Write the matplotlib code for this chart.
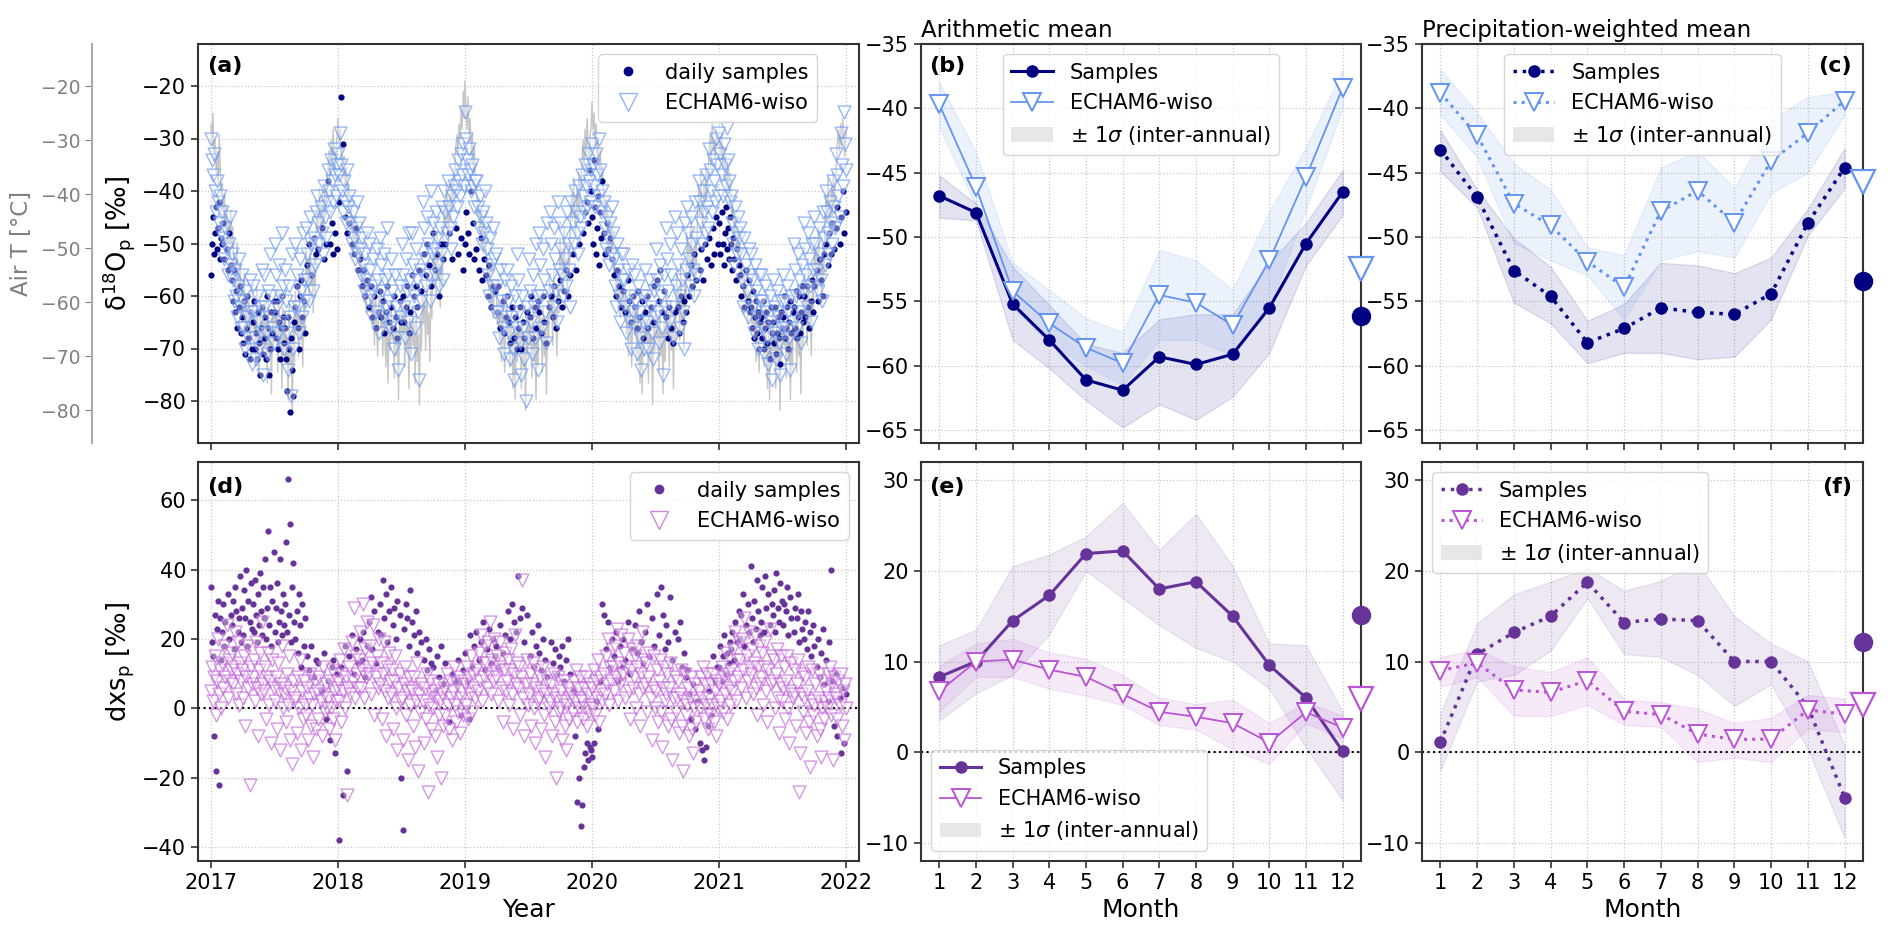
import numpy as np
import pandas as pd
import matplotlib
matplotlib.use('Agg')
import matplotlib.pyplot as plt
import matplotlib.dates as mdates
from matplotlib.patches import Patch
from matplotlib.lines import Line2D

plt.rcParams['font.family'] = ['DejaVu Sans']
n = np.nan
years = [2017, 2018, 2019, 2020, 2021]

# ---------------- daily data (3-day grid per year, NaN = no sample) ----------------
echam_d18o_2017 = [-30,-34,-37,-33,-40,-44,-38,-42,-46,-41,-48, -44,-49,-53,-47,-51,-56,-50,-45,-54,
    -52,-57,-61,-55,-60,-64,-58,-53,-62,-66, -56,-61,-66,-70,-59,-64,-68,-57,-63,-73,
    -58,-63,-68,-72,-60,-65,-70,-62,-67,-55,-75, -56,-62,-67,-71,-59,-64,-52,-60,-66,-69,
    -50,-56,-62,-67,-54,-60,-65,-48,-58,-70, -55,-61,-67,-74,-58,-64,-79,-52,-70,-62,
    -50,-56,-62,-67,-53,-59,-64,-48,-57,-61, -47,-52,-57,-61,-45,-50,-55,-59,-49,-54,-44,
    -41,-46,-50,-43,-48,-52,-39,-45,-49,-42, -36,-40,-44,-34,-38,-42,-32,-37,-41,-35]
echam_d18o_2018 = [-33,-37,-29,-35,-40,-44,-38,-42,-46,-36,-43, -41,-46,-50,-44,-49,-53,-47,-42,-52,
    -46,-51,-56,-49,-54,-59,-52,-57,-48,-61, -50,-55,-60,-64,-53,-58,-63,-51,-57,-67,
    -49,-54,-59,-64,-52,-57,-62,-47,-56,-61,-66, -53,-59,-65,-70,-56,-62,-68,-74,-58,-64,
    -50,-56,-62,-68,-53,-59,-65,-48,-57,-71, -48,-54,-60,-66,-51,-57,-63,-76,-55,-61,
    -42,-47,-53,-58,-45,-50,-56,-61,-40,-52, -46,-51,-56,-44,-49,-54,-58,-47,-52,-43,-57,
    -40,-44,-48,-38,-43,-47,-51,-41,-45,-39, -36,-40,-43,-34,-38,-41,-33,-37,-31,-39]
echam_d18o_2019 = [-25,-30,-34,-37,-32,-36,-40,-35,-39,-43,-38, -38,-43,-47,-41,-45,-50,-44,-48,-40,
    -46,-51,-56,-60,-49,-54,-58,-47,-53,-63, -52,-58,-63,-68,-55,-61,-66,-71,-57,-64,
    -55,-61,-67,-72,-58,-64,-70,-76,-60,-66,-52, -57,-63,-69,-75,-60,-66,-72,-80,-62,-68,
    -53,-59,-65,-71,-56,-62,-68,-50,-60,-74, -48,-54,-60,-66,-51,-57,-63,-69,-46,-59,
    -44,-50,-56,-62,-47,-53,-59,-65,-42,-55, -46,-51,-56,-60,-48,-53,-58,-44,-50,-55,-62,
    -42,-46,-50,-40,-44,-48,-52,-39,-45,-47, -37,-41,-44,-35,-39,-43,-33,-38,-42,-36]
echam_d18o_2020 = [-31,-35,-39,-43,-33,-37,-41,-30,-36,-44,-40, -42,-47,-51,-45,-49,-54,-46,-52,-43,
    -48,-53,-58,-62,-50,-55,-60,-65,-52,-57, -52,-57,-62,-67,-55,-60,-65,-70,-54,-63,
    -56,-61,-66,-71,-58,-63,-68,-74,-60,-65,-70, -55,-60,-65,-70,-57,-62,-67,-72,-59,-64,
    -51,-57,-63,-69,-54,-60,-66,-75,-56,-62, -47,-53,-59,-65,-50,-56,-62,-68,-45,-58,
    -48,-54,-60,-66,-51,-57,-63,-70,-46,-55, -43,-48,-53,-58,-45,-50,-55,-60,-42,-49,-56,
    -38,-42,-46,-50,-40,-44,-48,-37,-43,-47, -32,-36,-40,-44,-34,-38,-42,-30,-35,-41]
echam_d18o_2021 = [-29,-33,-37,-41,-31,-35,-39,-28,-34,-38,-42, -41,-46,-50,-54,-43,-48,-52,-45,-49,
    -47,-52,-57,-62,-49,-54,-59,-64,-51,-56, -52,-57,-62,-67,-54,-59,-64,-70,-56,-61,
    -56,-61,-66,-71,-58,-63,-68,-73,-60,-65,-76, -57,-62,-67,-72,-59,-64,-69,-75,-61,-66,
    -56,-61,-66,-71,-58,-63,-68,-74,-60,-65, -50,-55,-60,-66,-52,-57,-63,-69,-54,-59,
    -46,-51,-56,-62,-48,-53,-58,-65,-50,-55, -45,-50,-55,-59,-47,-52,-57,-61,-44,-49,-54,
    -40,-44,-48,-52,-42,-46,-50,-38,-43,-47, -33,-37,-41,-45,-29,-35,-39,-25,-31,-36]

samp_d18o_2017 = [-56,-50,-45,-52,-48,-43,-51,-47,-42,-53,-49, -50,-46,-53,n,-51,-55,-48,n,-54,
    -57,-61,-55,-63,-59,-66,n,-62,-58,-67, -64,-69,-61,-71,-66,-60,-68,-72,-63,-70,
    -65,-61,-70,-67,-72,-63,-69,-75,-66,-62,-71, -68,-64,-72,-60,-66,-75,-70,-63,-67,-61,
    -63,-68,-61,-70,-65,-72,-66,-60,-64,-69, -66,-72,-78,-64,-70,-82,-68,-74,-79,-65,
    -62,-58,-66,-70,-60,-57,-64,n,-61,-67, n,-54,n,-50,n,-56,n,n,-49,n,-52,
    n,-51,n,n,-47,n,-53,n,-50,n, -38,n,-50,n,-46,-52,n,-48,n,-51]
samp_d18o_2018 = [n,-42,n,-22,n,-31,n,-45,n,-48,n, -46,n,-50,n,-52,n,-47,n,-55,
    n,-53,n,-58,-55,n,-60,n,-57,n, -62,n,-58,-64,n,-60,-66,n,-63,n,
    -59,-64,n,-61,-67,n,-63,-58,n,-65,n, -62,n,-66,-60,n,-64,-68,n,-61,-65,
    n,-60,-65,n,-62,-58,n,-67,-63,n, -56,n,-60,n,-58,-62,n,-55,n,-59,
    n,-52,n,-56,-50,n,-54,n,-58,n, -48,n,-55,n,-52,n,-60,n,-50,n,-53,
    n,-50,n,n,-48,n,n,-53,n,n, n,-47,n,-52,n,n,-49,n,-55,n]
samp_d18o_2019 = [-50,-44,n,-48,-52,n,-40,n,-46,-53,n, -51,n,-55,n,-49,-57,n,-53,n,
    -56,n,-60,-54,n,-62,n,-58,n,-59, n,-63,-58,n,-66,n,-61,-67,n,-64,
    -60,n,-65,-69,n,-62,n,-68,-64,n,-70, -66,n,-62,-70,n,-65,-68,n,-63,n,
    n,-64,-60,n,-68,n,-62,-66,n,-61, -63,n,-67,n,-60,-65,n,-69,n,-62,
    n,-60,n,-64,-58,n,-66,n,-61,n, -57,n,-62,n,-59,n,-55,n,-60,n,-56,
    n,-52,n,n,-55,n,n,-50,n,n, n,-48,n,-44,n,-42,-46,n,-36,-40]
samp_d18o_2020 = [-45,-50,-34,-43,-52,-47,-41,-54,-44,-49,-38, -48,-52,n,-46,-51,n,-49,n,-53,
    n,-56,n,-60,-55,n,-58,n,-62,n, -59,n,-63,n,-57,-61,n,-65,n,-60,
    n,-62,n,-66,-59,n,-64,n,-61,-68,n, -63,n,-60,-66,n,-62,n,-65,-58,n,
    n,-57,n,-61,-55,n,-63,n,-59,n, -64,n,-68,-62,n,-66,n,-69,-63,n,
    n,-62,-67,n,-60,n,-65,-61,n,-63, -56,n,-60,n,-54,-58,n,-52,n,-57,n,
    n,-55,-51,n,-57,n,-50,n,-53,n, -49,n,-54,n,-47,-52,n,-45,n,-50]
samp_d18o_2021 = [-46,-52,-44,-50,-54,-48,-43,-51,-47,-53,-45, -50,-55,-49,-53,n,-57,-51,n,-54,
    -56,-60,n,-58,-62,-55,n,-61,-57,-63, -62,-66,-59,-68,-64,-61,-67,-63,-70,-65,
    -64,-68,-61,-70,-66,-63,-69,-65,-72,-62,-67, -65,-69,-62,-71,-67,-64,-68,-73,-63,-66,
    -64,-60,-68,-66,-62,-70,-65,-61,-67,-63, -62,-66,-59,-68,-64,-60,-67,-63,-58,-65,
    -60,-64,n,-58,-62,-66,n,-61,-57,-63, -58,n,-55,-61,n,-53,-57,n,-60,-52,n,
    -50,n,-54,-48,n,-52,-46,n,-51,n, -47,-43,n,-50,-45,n,-40,-48,n,-44]

samp_dxs_2017 = [35,19,15,-8,27,-18,23,31,-22,26,14, 22,30,18,25,n,33,20,n,27,
    24,31,17,35,28,n,22,26,38,19, 29,21,34,26,40,18,31,25,36,23,
    30,22,37,27,19,33,24,39,28,21,35, 26,43,20,29,51,24,35,18,31,45,
    22,29,36,19,25,43,28,21,33,24, 30,48,22,66,27,53,19,35,42,25,
    20,28,16,33,24,12,30,n,18,26, n,15,n,11,n,18,n,n,9,n,14,
    n,13,n,n,5,n,16,n,-3,n, 8,n,-9,n,12,14,n,-13,n,10]
samp_dxs_2018 = [n,-38,n,12,n,-25,n,18,n,-18,n, 15,n,21,n,10,n,17,n,13,
    n,20,n,14,22,n,9,n,18,n, 25,n,32,17,n,28,13,n,22,n,
    30,21,n,37,26,n,33,19,n,28,n, 35,n,24,29,n,20,31,n,27,-20,
    n,-35,23,n,30,26,n,18,34,n, 25,n,21,n,28,16,n,22,n,19,
    n,14,n,20,11,n,17,n,13,n, 12,n,5,n,15,n,9,n,18,n,7,
    n,13,n,n,-4,n,n,10,n,n, n,8,n,14,n,n,-2,n,11,n]
samp_dxs_2019 = [16,n,8,n,-3,21,n,12,n,18,n, 22,n,14,n,19,n,25,n,11,
    n,17,n,23,n,13,n,20,n,15, 18,n,12,n,24,n,16,n,21,n,
    n,28,n,20,n,30,n,25,n,22,n, 38,n,26,n,29,n,19,n,27,n,
    n,15,n,22,n,12,n,18,n,24, 16,n,11,n,20,n,14,n,9,n,
    n,19,n,13,n,17,n,10,n,15, 12,n,18,n,8,n,14,n,20,n,10,
    n,5,n,-8,n,-27,n,-20,n,-34, -28,n,-17,-13,n,-10,-15,n,-11,-12]
samp_dxs_2020 = [-14,n,-10,n,2,n,-6,n,8,n,30, 27,n,17,n,25,n,12,n,20,
    n,15,n,22,n,8,n,18,n,12, 20,n,14,n,25,n,10,n,17,n,
    n,24,n,16,n,28,n,19,n,13,n, 22,n,30,n,15,n,26,n,18,n,
    n,33,n,21,n,35,n,27,n,17, 24,n,19,n,32,n,14,n,22,n,
    n,20,n,25,n,12,n,16,n,9, 11,n,4,n,-3,n,7,n,-6,n,2,
    n,-10,n,-12,n,-15,n,-11,n,-5, 5,n,-2,n,15,n,8,n,12,n]
samp_dxs_2021 = [12,18,8,15,21,n,10,16,n,13,19, 17,22,n,14,25,n,19,n,28,
    20,27,n,33,18,24,n,30,22,n, 41,26,19,31,n,23,37,28,n,21,
    25,35,n,22,38,29,n,33,24,n,30, 27,34,22,39,n,29,25,36,n,31,
    24,30,n,28,35,21,n,32,26,n, 22,29,n,26,33,19,n,28,23,n,
    20,25,n,17,28,n,22,15,n,24, 18,n,12,20,n,9,16,n,23,7,n,
    14,n,2,19,n,40,8,n,-5,n, 10,-8,n,3,-13,n,6,-10,n,4]

echam_dxs_2017 = [5,12,2,9,15,-2,8,20,4,11,0, 13,6,18,9,24,3,14,8,11,
    16,7,12,22,4,10,19,1,13,8, 11,3,15,-5,9,18,6,-22,12,7,
    9,14,2,19,6,-8,11,16,4,25,7, 5,12,-3,9,16,1,8,-10,14,6,
    2,9,-6,13,5,-12,7,18,0,4, 6,-4,10,1,15,-9,5,-16,8,2,
    3,-7,9,0,14,-12,5,-3,8,1, -2,6,-9,3,10,-5,1,-14,4,8,-6,
    5,-3,9,2,-8,12,4,-1,7,0, 3,-6,8,0,11,-3,5,-9,2,6]
echam_dxs_2018 = [8,2,14,-4,10,5,17,0,9,-25,6, 12,4,19,8,29,3,15,10,6,
    14,22,6,11,30,3,17,9,25,12, 10,18,4,13,24,-2,9,15,6,20,
    7,13,-3,10,19,5,-8,12,3,16,8, 4,11,-6,8,15,0,-12,6,10,2,
    3,-9,7,12,-2,5,-15,9,1,6, 5,-5,9,-11,2,13,-18,4,-1,7,
    2,-10,6,-3,10,-24,1,8,-6,4, 0,5,-8,3,-14,7,-2,2,-20,4,-5,
    6,-2,10,1,-6,8,3,-9,5,12, 1,-4,7,-1,9,-7,3,5,-2,8]
echam_dxs_2019 = [7,1,12,-3,9,4,15,-1,10,6,3, 11,5,16,8,21,2,13,9,18,
    13,6,19,10,25,4,14,8,20,11, 9,15,2,12,19,6,-4,11,16,5,
    8,14,1,11,17,4,-6,10,21,7,13, 6,12,-2,9,37,3,-8,7,14,1,
    4,10,-5,7,13,0,-10,6,11,2, 3,9,-6,5,12,-2,-14,4,8,0,
    2,7,-8,4,10,-4,-20,3,9,-1, 0,5,-9,2,8,-5,-12,1,6,-3,3,
    4,-1,8,2,11,-4,6,0,9,3, 2,-3,6,0,9,-5,4,-1,7,1]
echam_dxs_2020 = [6,0,11,-2,8,3,14,-4,9,5,2, 10,4,15,7,20,1,12,8,17,
    12,5,18,9,23,2,13,7,21,10, 10,16,3,12,20,5,-3,11,17,6,
    9,15,0,12,18,4,-5,10,22,6,14, 7,13,-1,9,16,3,-9,6,15,0,
    5,11,-4,8,14,-1,-11,6,12,2, 4,10,-5,6,13,-3,-15,3,9,-1,
    3,8,-7,4,11,-5,-18,2,10,-2, 1,6,-8,3,9,-6,-13,0,7,-4,2,
    5,0,9,3,12,-3,7,1,10,-6, 3,-2,7,1,10,-4,5,-8,8,0]
echam_dxs_2021 = [7,2,12,-1,9,4,16,-3,10,6,1, 11,5,17,8,22,2,14,9,19,
    14,6,20,11,26,3,15,8,22,12, 10,17,4,13,21,6,-2,12,18,7,
    9,16,1,12,19,5,-4,11,23,7,15, 8,14,0,10,17,3,-7,7,15,2,
    6,12,-3,8,15,0,-10,5,13,3, 4,11,-5,7,14,-24,-13,4,10,-1,
    3,9,-7,5,12,-4,-17,2,11,-2, 1,7,-8,3,10,-6,-14,0,8,-3,2,
    5,0,10,3,12,-2,7,-15,9,4, 3,-3,8,1,10,-5,5,-9,7,0]

airT_2017 = [-27,-31,-25,-34,-30,-36,-32,-38,-29,-35,-40, -38,-44,-40,-47,-42,-49,-45,-51,-43,
    -50,-46,-55,-52,-58,-49,-56,-61,-53,-59, -57,-63,-55,-66,-60,-70,-58,-64,-68,-61,
    -59,-66,-62,-72,-57,-65,-74,-60,-68,-63,-70, -61,-68,-64,-75,-59,-70,-66,-77,-62,-69,
    -60,-67,-63,-73,-58,-69,-65,-76,-61,-70, -62,-70,-66,-78,-60,-72,-68,-81,-64,-71,
    -58,-65,-61,-70,-56,-67,-63,-72,-59,-66, -50,-56,-52,-60,-48,-57,-54,-62,-51,-58,-47,
    -42,-47,-39,-45,-50,-41,-46,-38,-44,-40, -36,-32,-38,-30,-35,-28,-33,-37,-31,-29]
airT_2018 = [-26,-30,-28,-34,-31,-37,-33,-39,-35,-41,-38, -40,-45,-42,-48,-44,-50,-46,-52,-47,
    -49,-54,-51,-57,-53,-60,-55,-62,-56,-58, -56,-62,-58,-65,-60,-68,-57,-64,-70,-61,
    -58,-65,-61,-70,-59,-67,-72,-62,-75,-64,-69, -60,-67,-63,-74,-61,-70,-65,-78,-62,-68,
    -59,-66,-62,-72,-60,-69,-64,-76,-63,-70, -61,-68,-64,-75,-62,-71,-66,-79,-63,-69,
    -57,-64,-60,-69,-55,-66,-62,-71,-58,-63, -49,-55,-51,-59,-47,-56,-53,-61,-50,-57,-46,
    -41,-46,-38,-44,-49,-40,-45,-37,-43,-39, -35,-31,-29,-33,-27,-30,-24,-28,-21,-26]
airT_2019 = [-19,-24,-28,-22,-30,-26,-33,-29,-36,-31,-38, -39,-44,-41,-47,-43,-49,-45,-51,-46,
    -50,-55,-52,-58,-54,-61,-56,-63,-57,-59, -58,-64,-60,-67,-62,-71,-59,-66,-73,-63,
    -60,-67,-63,-72,-61,-69,-76,-64,-78,-66,-71, -62,-69,-65,-76,-63,-72,-67,-80,-64,-70,
    -61,-68,-64,-74,-62,-71,-66,-78,-65,-72, -60,-67,-63,-73,-61,-70,-65,-77,-62,-68,
    -56,-63,-59,-68,-54,-65,-61,-70,-57,-62, -48,-54,-50,-58,-46,-55,-52,-60,-49,-56,-45,
    -40,-45,-37,-43,-48,-39,-44,-36,-42,-38, -34,-30,-36,-28,-33,-26,-31,-35,-29,-27]
airT_2020 = [-23,-28,-25,-31,-27,-34,-30,-36,-32,-38,-35, -39,-44,-41,-47,-43,-49,-45,-51,-46,
    -50,-55,-52,-58,-54,-61,-56,-63,-57,-59, -57,-63,-59,-66,-61,-70,-58,-65,-72,-62,
    -59,-66,-62,-71,-60,-68,-75,-63,-77,-65,-70, -61,-68,-64,-75,-62,-71,-66,-79,-63,-69,
    -60,-67,-63,-73,-61,-70,-65,-77,-64,-71, -59,-66,-62,-72,-60,-69,-64,-76,-61,-67,
    -55,-62,-58,-67,-53,-64,-60,-69,-56,-61, -47,-53,-49,-57,-45,-54,-51,-59,-48,-55,-44,
    -39,-44,-36,-42,-47,-38,-43,-35,-41,-37, -33,-29,-35,-27,-32,-30,-34,-28,-31,-29]
airT_2021 = [-30,-33,-29,-35,-31,-37,-33,-39,-34,-40,-36, -40,-45,-42,-48,-44,-50,-46,-52,-47,
    -51,-56,-53,-59,-55,-62,-57,-64,-58,-60, -58,-64,-60,-67,-62,-71,-59,-66,-73,-63,
    -60,-67,-63,-72,-61,-69,-76,-64,-78,-66,-71, -62,-69,-65,-76,-63,-72,-67,-80,-64,-70,
    -61,-68,-64,-74,-62,-71,-66,-78,-65,-72, -60,-67,-63,-73,-61,-70,-65,-77,-62,-68,
    -56,-63,-59,-68,-54,-65,-61,-70,-57,-62, -48,-54,-50,-58,-46,-55,-52,-60,-49,-56,-45,
    -40,-45,-37,-43,-48,-39,-44,-36,-42,-38, -34,-30,-28,-32,-27,-31,-26,-29,-33,-28]

# ---------------- monthly climatologies ----------------
months = list(range(1, 13))
# (b) arithmetic mean d18O
b_samp = [-46.8,-48.1,-55.2,-58.0,-61.1,-61.9,-59.3,-59.9,-59.1,-55.5,-50.5,-46.5]
b_samp_hi = [-45.2,-47.4,-52.3,-55.3,-58.3,-59.0,-56.4,-56.0,-56.0,-52.0,-48.9,-44.8]
b_samp_lo = [-48.5,-48.7,-58.0,-60.2,-62.7,-64.8,-63.0,-64.2,-62.4,-59.0,-52.2,-48.3]
b_echam = [-39.7,-46.1,-54.2,-56.7,-58.6,-59.8,-54.5,-55.1,-56.85,-51.8,-45.35,-38.4]
b_echam_hi = [-38.0,-43.4,-52.0,-54.1,-56.3,-57.4,-51.0,-51.8,-54.1,-48.0,-43.0,-37.0]
b_echam_lo = [-41.5,-47.6,-55.5,-58.2,-60.0,-61.5,-58.0,-58.0,-59.2,-55.5,-47.8,-40.0]
b_ann = [-56.1, -52.5]
# (c) precipitation-weighted mean d18O
c_samp = [-43.2,-46.9,-52.6,-54.6,-58.2,-57.1,-55.5,-55.85,-56.0,-54.4,-48.9,-44.6]
c_samp_hi = [-41.7,-46.3,-50.1,-52.3,-56.5,-55.2,-52.0,-52.2,-52.8,-51.6,-47.8,-43.1]
c_samp_lo = [-44.9,-47.7,-55.1,-56.7,-59.8,-59.0,-59.0,-59.5,-59.3,-56.4,-49.9,-46.2]
c_echam = [-38.8,-42.1,-47.4,-49.1,-51.9,-53.9,-48.0,-46.4,-48.9,-44.1,-41.9,-39.4]
c_echam_hi = [-37.0,-40.3,-44.3,-46.3,-50.8,-51.4,-44.6,-43.3,-46.2,-40.9,-39.1,-38.7]
c_echam_lo = [-40.5,-43.8,-50.5,-51.8,-53.0,-56.4,-51.8,-51.1,-51.6,-46.6,-45.0,-40.5]
c_ann = [-53.4, -45.7]
# (e) arithmetic mean dxs
e_samp = [8.3,10.0,14.5,17.3,21.9,22.2,18.0,18.8,15.0,9.6,6.0,0.1]
e_samp_hi = [11.8,13.5,20.5,21.8,23.8,27.5,22.3,26.3,20.5,12.0,11.8,4.5]
e_samp_lo = [3.5,6.5,8.5,13.0,20.0,17.0,14.0,11.5,10.0,7.0,0.5,-5.3]
e_echam = [6.7,10.0,10.2,9.1,8.3,6.4,4.45,3.9,3.2,1.05,4.4,2.7]
e_echam_hi = [9.5,12.0,12.5,11.0,10.3,8.5,6.0,5.3,5.8,3.2,5.5,4.0]
e_echam_lo = [4.5,8.3,8.3,7.0,6.2,5.2,3.0,2.5,0.3,-1.3,3.2,1.5]
e_ann = [15.1, 5.9]
# (f) precipitation-weighted mean dxs
f_samp = [1.1,10.8,13.2,15.0,18.75,14.3,14.7,14.5,10.0,10.0,5.0,-5.0]
f_samp_hi = [4.3,14.2,17.4,18.8,20.3,17.8,18.9,20.9,15.0,12.0,10.0,0.8]
f_samp_lo = [-2.0,7.8,8.5,11.2,17.0,10.8,10.5,8.5,5.1,7.5,0.3,-9.4]
f_echam = [9.0,9.85,6.85,6.6,7.9,4.5,4.15,2.0,1.4,1.45,4.65,4.2]
f_echam_hi = [10.5,11.3,9.5,8.8,10.5,5.8,5.5,4.8,3.2,3.8,6.3,5.9]
f_echam_lo = [7.2,8.3,4.0,4.0,5.2,3.0,2.8,-1.1,-0.6,-1.1,2.6,2.2]
f_ann = [12.2, 5.2]

# ---------------- helpers ----------------
def build(lists):
    ds, vs = [], []
    for y, v in zip(years, lists):
        ds.append(pd.date_range(f'{y}-01-01', periods=len(v), freq='3D'))
        vs.extend(v)
    return ds[0].append(ds[1:]), np.array(vs, dtype=float)

t_ed, v_ed = build([echam_d18o_2017, echam_d18o_2018, echam_d18o_2019, echam_d18o_2020, echam_d18o_2021])
t_sd, v_sd = build([samp_d18o_2017, samp_d18o_2018, samp_d18o_2019, samp_d18o_2020, samp_d18o_2021])
t_sx, v_sx = build([samp_dxs_2017, samp_dxs_2018, samp_dxs_2019, samp_dxs_2020, samp_dxs_2021])
t_ex, v_ex = build([echam_dxs_2017, echam_dxs_2018, echam_dxs_2019, echam_dxs_2020, echam_dxs_2021])
t_T, v_T = build([airT_2017, airT_2018, airT_2019, airT_2020, airT_2021])

NAVY = '#000080'
BLUE = '#6495ED'
PURP = '#663399'
ORCH = '#BA55D3'
GRIDKW = dict(color='#c8c8c8', linestyle=':', linewidth=0.9)
FS_T = 15
SPINE = '#333333'

fig = plt.figure(figsize=(18.92, 9.35), dpi=100)

def style(ax):
    for s in ax.spines.values():
        s.set_color(SPINE)
        s.set_linewidth(1.5)
    ax.tick_params(labelsize=FS_T, length=5, width=1.2, color=SPINE)
    ax.grid(True, **GRIDKW)
    ax.set_axisbelow(True)

W_L = 661/1892; W_R = 441/1892; H = 399/935
ax_a = fig.add_axes([198/1892, 1-443/935, W_L, H])
ax_d = fig.add_axes([198/1892, 1-861/935, W_L, H])
ax_b = fig.add_axes([921/1892, 1-443/935, 440/1892, H])
ax_e = fig.add_axes([921/1892, 1-861/935, 440/1892, H])
ax_c = fig.add_axes([1422/1892, 1-443/935, W_R, H])
ax_f = fig.add_axes([1422/1892, 1-861/935, W_R, H])

xlim_dates = (pd.Timestamp('2016-11-25'), pd.Timestamp('2022-02-06'))

# ---------- (a) ----------
ax_t = ax_a.twinx()
ax_t.plot(t_T, v_T, color='#a0a0a0', lw=1.0, alpha=0.6)
for k in ['top', 'bottom', 'right']:
    ax_t.spines[k].set_visible(False)
ax_t.spines['left'].set_position(('outward', 76))
ax_t.spines['left'].set_color('#aaaaaa')
ax_t.spines['left'].set_linewidth(1.5)
ax_t.yaxis.tick_left()
ax_t.yaxis.set_label_position('left')
ax_t.set_ylim(-86.1, -12.2)
ax_t.set_yticks([-80, -70, -60, -50, -40, -30, -20])
ax_t.tick_params(axis='y', labelsize=13.5, colors='#808080', length=5)
ax_t.set_ylabel('Air T [°C]', fontsize=16.5, color='#808080', labelpad=6)
ax_a.set_zorder(ax_t.get_zorder() + 1)
ax_a.patch.set_visible(False)

style(ax_a)
ax_a.scatter(t_sd, v_sd, s=20, color=NAVY, zorder=3, linewidths=0)
ax_a.scatter(t_ed, v_ed, s=85, marker='v', facecolors=(1, 1, 1, 0.35),
             edgecolors=(0.39, 0.58, 0.93, 0.65), linewidths=1.0, zorder=4)
ax_a.set_ylim(-88, -12)
ax_a.set_yticks([-80, -70, -60, -50, -40, -30, -20])
ax_a.set_xlim(*xlim_dates)
ax_a.xaxis.set_major_locator(mdates.YearLocator())
ax_a.tick_params(axis='x', labelbottom=False)
ax_a.set_ylabel('δ$^{18}$O$_\\mathrm{p}$ [‰]', fontsize=18.5)
ax_a.text(0.014, 0.945, '(a)', transform=ax_a.transAxes, fontsize=16, fontweight='bold', va='center')
h_a = [Line2D([], [], ls='', marker='o', ms=6, color=NAVY),
       Line2D([], [], ls='', marker='v', ms=13, mfc='white', mec=BLUE, alpha=0.7)]
ax_a.legend(h_a, ['daily samples', 'ECHAM6-wiso'], loc='upper right',
            bbox_to_anchor=(0.952, 1.0), fontsize=15)

# ---------- (d) ----------
style(ax_d)
ax_d.axhline(0, color='k', ls=':', lw=1.5, zorder=2)
ax_d.scatter(t_sx, v_sx, s=20, color=PURP, zorder=3, linewidths=0)
ax_d.scatter(t_ex, v_ex, s=85, marker='v', facecolors=(1, 1, 1, 0.35),
             edgecolors=(0.73, 0.33, 0.83, 0.6), linewidths=1.0, zorder=4)
ax_d.set_ylim(-44, 71)
ax_d.set_yticks([-40, -20, 0, 20, 40, 60])
ax_d.set_xlim(*xlim_dates)
ax_d.xaxis.set_major_locator(mdates.YearLocator())
ax_d.xaxis.set_major_formatter(mdates.DateFormatter('%Y'))
ax_d.set_xlabel('Year', fontsize=18)
ax_d.set_ylabel('dxs$_\\mathrm{p}$ [‰]', fontsize=18.5)
ax_d.text(0.014, 0.937, '(d)', transform=ax_d.transAxes, fontsize=16, fontweight='bold', va='center')
h_d = [Line2D([], [], ls='', marker='o', ms=6, color=PURP),
       Line2D([], [], ls='', marker='v', ms=13, mfc='white', mec=ORCH, alpha=0.7)]
ax_d.legend(h_d, ['daily samples', 'ECHAM6-wiso'], loc='upper right', fontsize=15)

# ---------- monthly panels ----------
def monthly(ax, s, slo, shi, e, elo, ehi, ann, cs, ce, ls, lw_s, lw_e):
    style(ax)
    ax.fill_between(months, slo, shi, color=cs, alpha=0.11, lw=1)
    ax.fill_between(months, elo, ehi, color=ce, alpha=0.12, lw=1)
    ax.plot(months, s, color=cs, ls=ls, lw=lw_s, marker='o', ms=8, zorder=4)
    ax.plot(months, e, color=ce, ls=ls, lw=lw_e, marker='v', ms=13, mfc='white',
            mec=ce, mew=1.4, zorder=4)
    ax.plot([12.5], [ann[0]], ls='', marker='o', ms=13, color=cs, clip_on=False, zorder=6)
    ax.plot([12.5], [ann[1]], ls='', marker='v', ms=17, mfc='white', mec=ce, mew=1.6,
            clip_on=False, zorder=6)
    ax.set_xlim(0.5, 12.5)
    ax.set_xticks(months)
    h = [Line2D([], [], color=cs, ls=ls, lw=lw_s, marker='o', ms=8),
         Line2D([], [], color=ce, ls=ls, lw=lw_e, marker='v', ms=13, mfc='white', mec=ce, mew=1.4),
         Patch(facecolor='#d8d8d8', alpha=0.6, edgecolor='none')]
    return h

labels_m = ['Samples', 'ECHAM6-wiso', '± 1$\\sigma$ (inter-annual)']

h = monthly(ax_b, b_samp, b_samp_lo, b_samp_hi, b_echam, b_echam_lo, b_echam_hi, b_ann,
            NAVY, BLUE, '-', 2.2, 1.3)
ax_b.set_ylim(-66, -35)
ax_b.set_yticks([-65, -60, -55, -50, -45, -40, -35])
ax_b.tick_params(axis='x', labelbottom=False)
ax_b.set_title('Arithmetic mean', loc='left', fontsize=16.5, pad=5)
ax_b.text(0.018, 0.945, '(b)', transform=ax_b.transAxes, fontsize=16, fontweight='bold', va='center')
ax_b.legend(h, labels_m, loc='upper center', fontsize=15)

h = monthly(ax_c, c_samp, c_samp_lo, c_samp_hi, c_echam, c_echam_lo, c_echam_hi, c_ann,
            NAVY, BLUE, ':', 2.5, 2.2)
ax_c.set_ylim(-66, -35)
ax_c.set_yticks([-65, -60, -55, -50, -45, -40, -35])
ax_c.tick_params(axis='x', labelbottom=False)
ax_c.set_title('Precipitation-weighted mean', loc='left', fontsize=16.5, pad=5)
ax_c.text(0.975, 0.945, '(c)', transform=ax_c.transAxes, fontsize=16, fontweight='bold',
          va='center', ha='right')
ax_c.legend(h, labels_m, loc='upper center', fontsize=15)

h = monthly(ax_e, e_samp, e_samp_lo, e_samp_hi, e_echam, e_echam_lo, e_echam_hi, e_ann,
            PURP, ORCH, '-', 2.2, 1.3)
ax_e.axhline(0, color='k', ls=':', lw=1.5, zorder=2)
ax_e.set_ylim(-12, 32)
ax_e.set_yticks([-10, 0, 10, 20, 30])
ax_e.set_xlabel('Month', fontsize=18)
ax_e.text(0.018, 0.937, '(e)', transform=ax_e.transAxes, fontsize=16, fontweight='bold', va='center')
ax_e.legend(h, labels_m, loc='lower left', fontsize=15)

h = monthly(ax_f, f_samp, f_samp_lo, f_samp_hi, f_echam, f_echam_lo, f_echam_hi, f_ann,
            PURP, ORCH, ':', 2.5, 2.2)
ax_f.axhline(0, color='k', ls=':', lw=1.5, zorder=2)
ax_f.set_ylim(-12, 32)
ax_f.set_yticks([-10, 0, 10, 20, 30])
ax_f.set_xlabel('Month', fontsize=18)
ax_f.text(0.975, 0.937, '(f)', transform=ax_f.transAxes, fontsize=16, fontweight='bold',
          va='center', ha='right')
ax_f.legend(h, labels_m, loc='upper left', fontsize=15)

fig.savefig('out.png', dpi=100)
